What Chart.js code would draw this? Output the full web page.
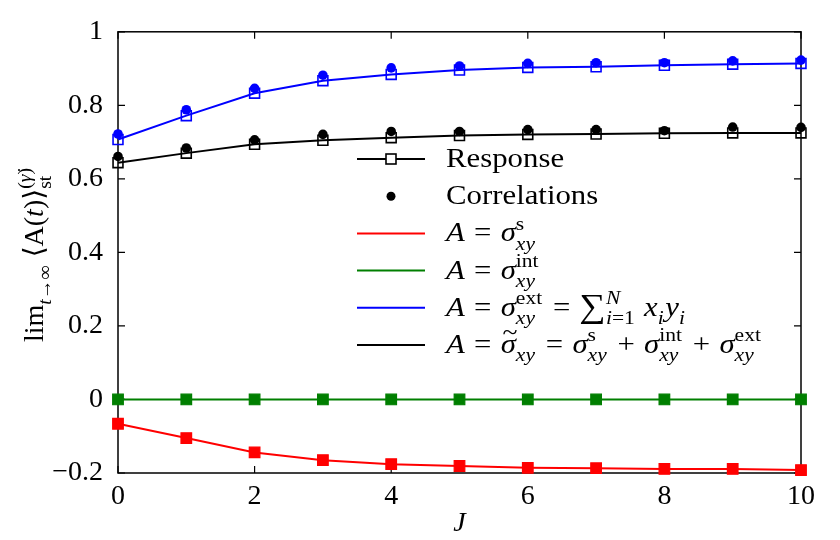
<!DOCTYPE html>
<html>
<head>
<meta charset="utf-8">
<script src="https://cdn.jsdelivr.net/npm/chart.js@4.4.1/dist/chart.umd.min.js"></script>
<style>
    html, body { margin: 0; padding: 0; background: #fff; }
    #wrap { width: 840px; height: 540px; }
</style>
</head>
<body>
<div id="wrap"><canvas id="chart"></canvas></div>
<script>
// values
const J = [0, 1, 2, 3, 4, 5, 6, 7, 8, 9, 10];
const sigmaS = [-0.066, -0.105, -0.144, -0.165, -0.176, -0.181, -0.186, -0.187, -0.189, -0.189, -0.192];
const sigmaInt = [0, 0, 0, 0, 0, 0, 0, 0, 0, 0, 0];
const sigmaExtResponse = [0.707, 0.772, 0.833, 0.867, 0.884, 0.896, 0.903, 0.905, 0.909, 0.912, 0.914];
const sigmaExtCorrelation = [0.722, 0.788, 0.846, 0.882, 0.902, 0.907, 0.914, 0.916, 0.916, 0.921, 0.923];
const sigmaTotResponse = [0.644, 0.670, 0.694, 0.705, 0.712, 0.718, 0.721, 0.722, 0.724, 0.725, 0.725];
const sigmaTotCorrelation = [0.661, 0.684, 0.706, 0.721, 0.729, 0.729, 0.734, 0.734, 0.731, 0.741, 0.740];
const xTicks = [0, 2, 4, 6, 8, 10];
const yTicks = [-0.2, 0, 0.2, 0.4, 0.6, 0.8, 1];

const RED = "#ff0000";
const GREEN = "#007f00";
const BLUE = "#0000ff";
const BLACK = "#000000";
const FONT_SIZE = 28;
const FAMILY = '"Liberation Serif", "Times New Roman", "DejaVu Serif", serif';

const font = (italic, size) => (italic ? "italic " : "") + size + "px " + FAMILY;
const points = (arr) => J.map((j, i) => ({ x: j, y: arr[i] }));

// draws (or measures) a line of text with sub/superscripts
function rich(ctx, x, y, parts, size, draw) {
    let cx = x;
    for (const p of parts) {
        if (p.op !== undefined) {
            // binary operator / relation with TeX-like spacing
            cx += size * 0.3;
            ctx.font = font(false, size);
            if (draw) ctx.fillText(p.op, cx, y);
            cx += ctx.measureText(p.op).width + size * 0.3;
        }
        if (p.t !== undefined) {
            ctx.font = font(p.it, size * (p.big || 1));
            const w = ctx.measureText(p.t).width;
            if (draw) {
                ctx.fillText(p.t, cx, y + (p.big ? size * 0.04 : 0));
                if (p.tilde) {
                    ctx.font = font(false, size * 0.9);
                    const tw = ctx.measureText("~").width;
                    ctx.fillText("~", cx + w / 2 - tw / 2 + size * 0.06, y - size * 0.45);
                }
            }
            cx += w;
        }
        if (p.sup || p.sub) {
            let w = 0;
            const s = size * 0.7;
            if (p.sup) w = Math.max(w, rich(ctx, cx, y - size * 0.42, p.sup, s, draw));
            if (p.sub) w = Math.max(w, rich(ctx, cx, y + size * 0.3, p.sub, s, draw));
            cx += w + size * 0.05;
        }
    }
    return cx - x;
}

const xy = [{ t: "xy", it: true }];
const eq = { op: "=" };
const plus = { op: "+" };
const sig = (sup) => [{ t: "σ", it: true }, { sup: [{ t: sup }], sub: xy }];
const legendRows = [
    { kind: "response", color: BLACK, parts: [{ t: "Response" }] },
    { kind: "correlation", color: BLACK, parts: [{ t: "Correlations" }] },
    { kind: "line", color: RED, parts: [{ t: "A", it: true }, eq, ...sig("s")] },
    { kind: "line", color: GREEN, parts: [{ t: "A", it: true }, eq, ...sig("int")] },
    {
        kind: "line", color: BLUE,
        parts: [{ t: "A", it: true }, eq, ...sig("ext"), eq, { t: "∑", big: 1.2 },
            { sup: [{ t: "N", it: true }], sub: [{ t: "i", it: true }, { t: "=1" }] }, { t: " " },
            { t: "x", it: true }, { sub: [{ t: "i", it: true }] }, { t: "y", it: true }, { sub: [{ t: "i", it: true }] }],
    },
    {
        kind: "line", color: BLACK,
        parts: [{ t: "A", it: true }, eq, { t: "σ", it: true, tilde: true }, { sub: xy }, eq,
            ...sig("s"), plus, ...sig("int"), plus, ...sig("ext")],
    },
];

const yTitle = [
    { t: "lim" }, { sub: [{ t: "t", it: true }, { t: "→∞" }] }, { t: " ⟨A(" }, { t: "t", it: true }, { t: ")⟩" },
    { sup: [{ t: "(" }, { t: "γ̇", it: true }, { t: ")" }], sub: [{ t: "st" }] },
];

const figurePlugin = {
    id: "figure",
    beforeDatasetsDraw(chart) {
        const { ctx, chartArea: a, scales } = chart;
        ctx.save();
        ctx.strokeStyle = "#000";
        ctx.lineWidth = 1.5;
        ctx.strokeRect(a.left, a.top, a.right - a.left, a.bottom - a.top);
        ctx.lineWidth = 1.2;
        ctx.beginPath();
        xTicks.forEach((v) => {
            const px = scales.x.getPixelForValue(v);
            ctx.moveTo(px, a.bottom); ctx.lineTo(px, a.bottom - 7);
            ctx.moveTo(px, a.top); ctx.lineTo(px, a.top + 7);
        });
        yTicks.forEach((v) => {
            const py = scales.y.getPixelForValue(v);
            ctx.moveTo(a.left, py); ctx.lineTo(a.left + 7, py);
            ctx.moveTo(a.right, py); ctx.lineTo(a.right - 7, py);
        });
        ctx.stroke();
        ctx.restore();
    },
    afterDraw(chart) {
        const { ctx, chartArea: a } = chart;
        ctx.save();
        ctx.fillStyle = "#000";
        ctx.textBaseline = "alphabetic";
        // x title
        ctx.font = font(true, FONT_SIZE);
        ctx.textAlign = "center";
        ctx.fillText("J", (a.left + a.right) / 2, a.bottom + 58);
        ctx.textAlign = "left";
        // y title
        const len = rich(ctx, 0, 0, yTitle, FONT_SIZE, false);
        ctx.save();
        ctx.translate(43, (a.top + a.bottom) / 2 + 2);
        ctx.rotate(-Math.PI / 2);
        rich(ctx, -len / 2, 0, yTitle, FONT_SIZE, true);
        ctx.restore();
        // legend
        const lx0 = 357, lx1 = 425, tx = 446, ly = 159, step = 37.2;
        legendRows.forEach((row, i) => {
            const y = ly + i * step;
            ctx.strokeStyle = row.color;
            ctx.fillStyle = row.color;
            if (row.kind !== "correlation") {
                ctx.lineWidth = 2;
                ctx.beginPath(); ctx.moveTo(lx0, y); ctx.lineTo(lx1, y); ctx.stroke();
            }
            if (row.kind === "response") {
                ctx.fillStyle = "#fff";
                ctx.lineWidth = 1.6;
                ctx.fillRect(391 - 5, y - 5, 10, 10);
                ctx.strokeRect(391 - 5, y - 5, 10, 10);
            }
            if (row.kind === "correlation") {
                ctx.beginPath(); ctx.arc(391, y, 4.5, 0, Math.PI * 2); ctx.fill();
            }
            ctx.fillStyle = "#000";
            ctx.save();
            ctx.translate(tx, y + 8);
            ctx.scale(1.1, 1);
            rich(ctx, 0, 0, row.parts, FONT_SIZE, true);
            ctx.restore();
        });
        ctx.restore();
    },
};

const lineSet = (data, color, filled) => ({
    data: points(data),
    borderColor: color,
    borderWidth: 2,
    pointStyle: "rect",
    pointRadius: filled ? 7.5 : 7,
    pointBorderWidth: filled ? 1.2 : 1.6,
    pointBorderColor: color,
    pointBackgroundColor: filled ? color : "rgba(0,0,0,0)",
    showLine: true,
    clip: false,
});
const dotSet = (data, color) => ({
    data: points(data),
    showLine: false,
    pointStyle: "circle",
    pointRadius: 4.8,
    pointBorderWidth: 0,
    pointBackgroundColor: color,
    clip: false,
});

new Chart(document.getElementById("chart"), {
    type: "scatter",
    data: {
        datasets: [
            lineSet(sigmaS, RED, true),
            lineSet(sigmaInt, GREEN, true),
            lineSet(sigmaExtResponse, BLUE, false),
            lineSet(sigmaTotResponse, BLACK, false),
            dotSet(sigmaExtCorrelation, BLUE),
            dotSet(sigmaTotCorrelation, BLACK),
        ],
    },
    options: {
        responsive: true,
        maintainAspectRatio: false,
        animation: false,
        layout: { padding: { top: 29, right: 39, left: 0, bottom: 0 } },
        plugins: { legend: { display: false }, tooltip: { enabled: false } },
        scales: {
            x: {
                type: "linear",
                min: 0,
                max: 10,
                afterBuildTicks: (s) => { s.ticks = xTicks.map((v) => ({ value: v })); },
                afterFit: (s) => { s.height = 67; },
                grid: { display: false, drawTicks: false },
                border: { display: false },
                ticks: { color: "#000", padding: 7, maxRotation: 0, font: { family: FAMILY, size: FONT_SIZE }, callback: (v) => String(v) },
            },
            y: {
                type: "linear",
                min: -0.2,
                max: 1,
                afterBuildTicks: (s) => { s.ticks = yTicks.map((v) => ({ value: v })); },
                afterFit: (s) => { s.width = 118; },
                grid: { display: false, drawTicks: false },
                border: { display: false },
                ticks: {
                    color: "#000", padding: 15, font: { family: FAMILY, size: FONT_SIZE },
                    callback: (v) => { const n = Math.round(v * 10) / 10; return n < 0 ? "−" + (-n) : String(n); },
                },
            },
        },
    },
    plugins: [figurePlugin],
});
</script>
</body>
</html>
